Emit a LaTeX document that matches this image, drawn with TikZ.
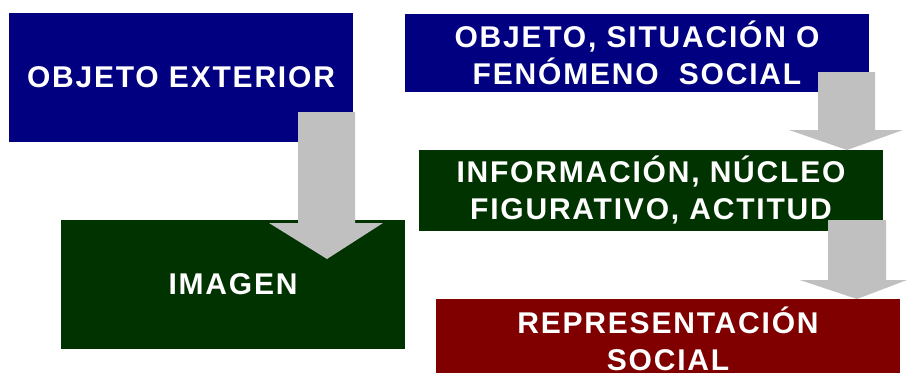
\documentclass[tikz,border=0pt]{standalone}
\usepackage{fontspec}
\newfontfamily\boxfont{Liberation Sans}[LetterSpace=6]
\definecolor{boxblue}{HTML}{000080}
\definecolor{boxgreen}{HTML}{003300}
\definecolor{boxred}{HTML}{800000}
\definecolor{arrowgrey}{HTML}{C0C0C0}
\begin{document}
\begin{tikzpicture}[x=1pt,y=-1pt,
  box/.style={rectangle, inner sep=0pt, text=white, align=center,
    font=\boxfont\bfseries\fontsize{30}{37}\selectfont},
  blockarrow/.style={fill=arrowgrey}]
\useasboundingbox (0,0) rectangle (907,372);
% boxes
\node[box, fill=boxblue, minimum width=344pt, minimum height=129pt] (oe) at (181,77.5) {OBJETO EXTERIOR};
\node[box, fill=boxgreen, minimum width=344pt, minimum height=129pt] (im) at (233,284.5) {IMAGEN};
\node[box, fill=boxblue, minimum width=464pt, minimum height=78pt] (os) at (637,53) {OBJETO, SITUACIÓN O\\FENÓMENO\ \ SOCIAL};
\node[box, fill=boxgreen, minimum width=464pt, minimum height=81pt] (in) at (651,190.5) {INFORMACIÓN, NÚCLEO\\FIGURATIVO, ACTITUD};
\fill[boxred] (436,299) rectangle (900,380);
\node[box, minimum width=464pt, minimum height=80pt] (rs) at (668,339) {REPRESENTACIÓN\\SOCIAL};
% block arrows
\fill[blockarrow] (298,112) -- (355,112) -- (355,223) -- (383,223) -- (327,259) -- (269,223) -- (298,223) -- cycle;
\fill[blockarrow] (818,72) -- (875,72) -- (875,130) -- (903,130) -- (847,150) -- (789,130) -- (818,130) -- cycle;
\fill[blockarrow] (828,220) -- (886,220) -- (886,280) -- (907,280) -- (857,299) -- (800,280) -- (828,280) -- cycle;
\end{tikzpicture}
\end{document}
